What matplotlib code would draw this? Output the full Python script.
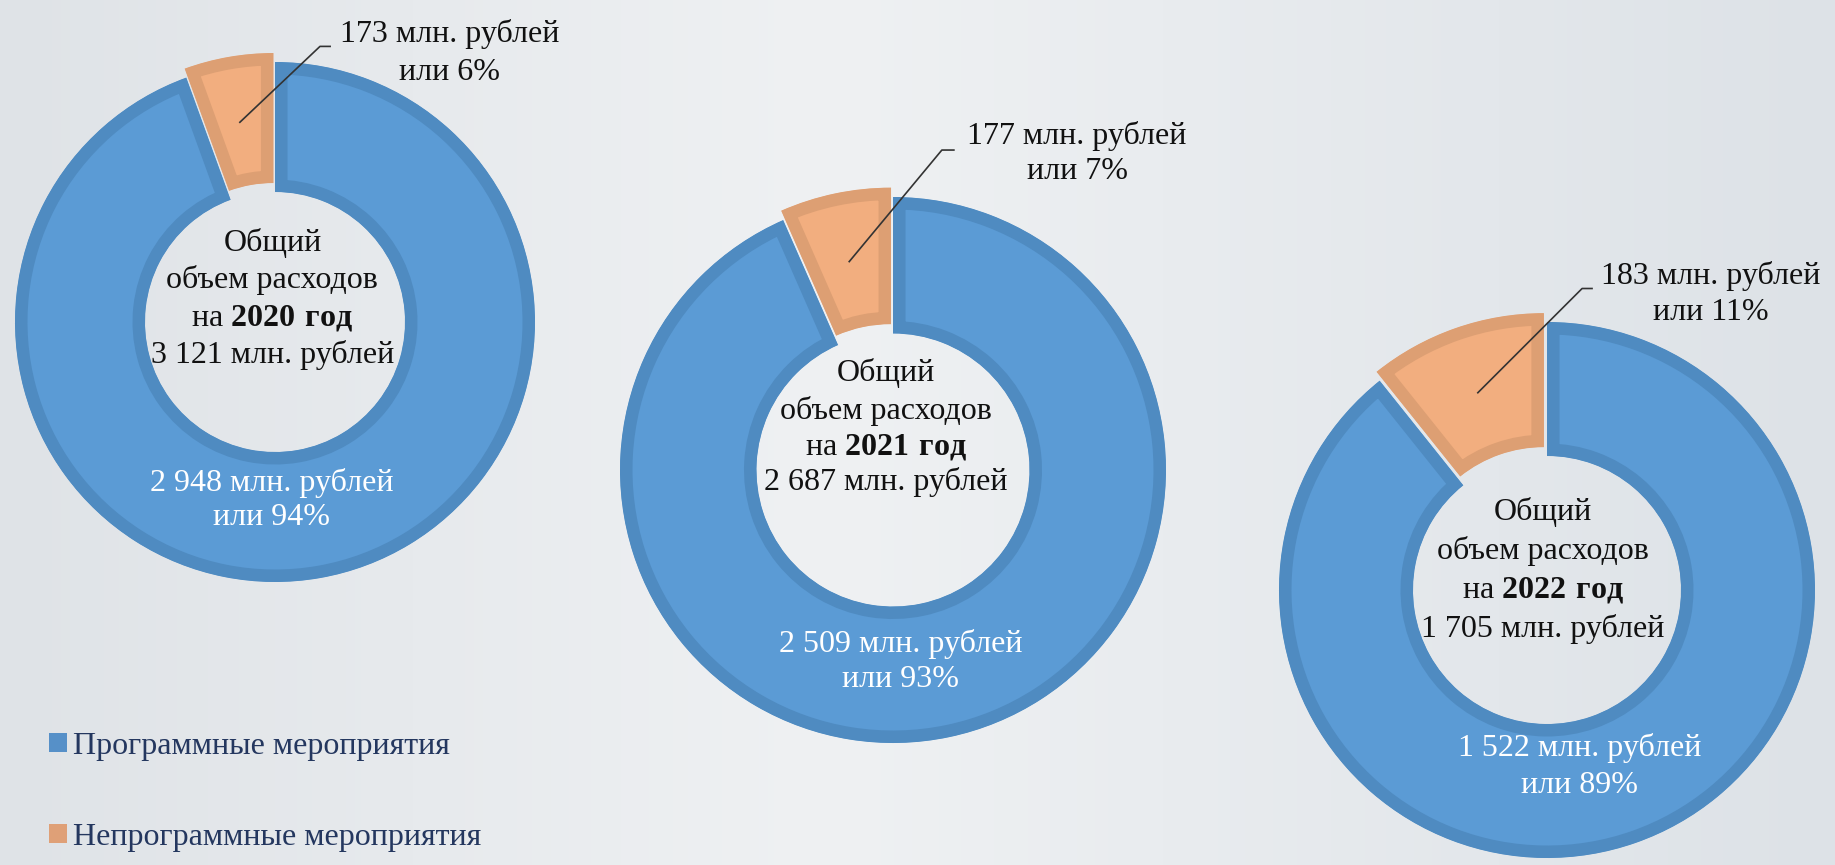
import numpy as np
import matplotlib
matplotlib.use("Agg")
import matplotlib.pyplot as plt
from matplotlib.patches import Patch
from matplotlib.colors import to_rgb

# ---------------- data ----------------
years = ["2020", "2021", "2022"]
program = [2948, 2509, 1522]
nonprogram = [173, 177, 183]
totals_text = ["3 121", "2 687", "1 705"]
program_text = ["2 948", "2 509", "1 522"]
nonprogram_text = ["173", "177", "183"]
program_pct = [94, 93, 89]
nonprogram_pct = [6, 7, 11]
legend_labels = ["Программные мероприятия", "Непрограммные мероприятия"]

# ---------------- style ----------------
FONT = "Liberation Serif"
plt.rcParams["font.family"] = [FONT, "DejaVu Serif"]
plt.rcParams["mathtext.fontset"] = "custom"
plt.rcParams["mathtext.rm"] = FONT
plt.rcParams["mathtext.bf"] = FONT + ":bold"
FS = 23

BLUE, BLUE_EDGE = "#5b9bd5", "#4f8bc1"
ORANGE, ORANGE_EDGE = "#f2ae7f", "#dd9f73"
LEG_BLUE, LEG_ORANGE = "#5690c8", "#dfa077"
NAVY = "#24375f"

W, H = 1835, 865
fig = plt.figure(figsize=(W / 100, H / 100), dpi=100)

# background gradient
bg = fig.add_axes([0, 0, 1, 1])
bg.set_axis_off()
xs = np.linspace(0, 1, 600)
stops = [0.0, 0.45, 1.0]
cols = [to_rgb("#dfe3e7"), to_rgb("#eff1f3"), to_rgb("#dde2e7")]
grad = np.stack([np.interp(xs, stops, [c[k] for c in cols]) for k in range(3)], axis=-1)
grad = np.repeat(grad[None, :, :], 10, axis=0)
bg.imshow(grad, aspect="auto", extent=[0, 1, 0, 1], zorder=0)
bg.set_xlim(0, 1)
bg.set_ylim(0, 1)

# layout (pixel centers / radii of the donuts)
layout = [(275, 322, 260), (893, 470, 273), (1547, 590, 268)]
center_x = [-0.01, -0.026, -0.015]
center_y = [[0.305, 0.162, 0.014, -0.128],
            [0.354, 0.217, 0.084, -0.045],
            [0.290, 0.144, -0.001, -0.147]]
out_xy = [(0.673, 1.106, 0.958), (0.674, 1.222, 1.094), (0.612, 1.170, 1.037)]
elbow = [(0.173, 0.212, 1.060), (0.179, 0.223, 1.172), (0.131, 0.168, 1.125)]
in_xy = [(-0.012, -0.618, -0.752), (0.029, -0.636, -0.767), (0.123, -0.588, -0.728)]
EXPL = 0.035

for i in range(3):
    cx, cy, R = layout[i]
    m = 1.3
    ax = fig.add_axes([(cx - m * R) / W, (H - cy - m * R) / H, 2 * m * R / W, 2 * m * R / H])
    wedges, _ = ax.pie([program[i], nonprogram[i]], colors=[BLUE, ORANGE],
                       startangle=90, counterclock=False, explode=[0, EXPL],
                       radius=1.0, wedgeprops=dict(width=0.5, linewidth=18))
    ax.set_xlim(-m, m)
    ax.set_ylim(-m, m)
    ax.set_axis_off()
    for w, ec in zip(wedges, [BLUE_EDGE, ORANGE_EDGE]):
        w.set_edgecolor(ec)
        w.set_clip_on(True)
        w.set_clip_path(w)   # inner stroke: clip the outline to the wedge itself

    # centre text
    lines = ["Общий", "объем расходов",
             r"на $\mathbf{" + years[i] + r"\ год}$",
             totals_text[i] + " млн. рублей"]
    for t, yy in zip(lines, center_y[i]):
        ax.text(center_x[i], yy, t, ha="center", va="center", fontsize=FS, color="#111111")

    # inner label (programme)
    ix, iy1, iy2 = in_xy[i]
    ax.text(ix, iy1, program_text[i] + " млн. рублей", ha="center", va="center",
            fontsize=FS, color="white")
    ax.text(ix, iy2, "или %d%%" % program_pct[i], ha="center", va="center",
            fontsize=FS, color="white")

    # outer label (non-programme) with leader
    w2 = wedges[1]
    thm = np.deg2rad((w2.theta1 + w2.theta2) / 2)
    ox, oy = w2.center
    r0 = 0.745
    sx, sy = ox + r0 * np.cos(thm), oy + r0 * np.sin(thm)
    ex1, ex2, ey = elbow[i]
    ax.plot([sx, ex1, ex2], [sy, ey, ey], color="#333333", lw=1.2, clip_on=False)
    tx, ty1, ty2 = out_xy[i]
    ax.text(tx, ty1, nonprogram_text[i] + " млн. рублей", ha="center", va="center",
            fontsize=FS, color="#111111")
    ax.text(tx, ty2, "или %d%%" % nonprogram_pct[i], ha="center", va="center",
            fontsize=FS, color="#111111")

handles = [Patch(facecolor=LEG_BLUE, edgecolor="none"),
           Patch(facecolor=LEG_ORANGE, edgecolor="none")]
leg = fig.legend(handles, legend_labels, loc="center left",
                 bbox_to_anchor=(49 / W, 1 - 792 / H), frameon=False,
                 fontsize=FS, handlelength=0.55, handleheight=0.55,
                 handletextpad=0.2, labelspacing=1.95, borderpad=0, borderaxespad=0)
for t in leg.get_texts():
    t.set_color(NAVY)

fig.savefig("out.png", dpi=100)
